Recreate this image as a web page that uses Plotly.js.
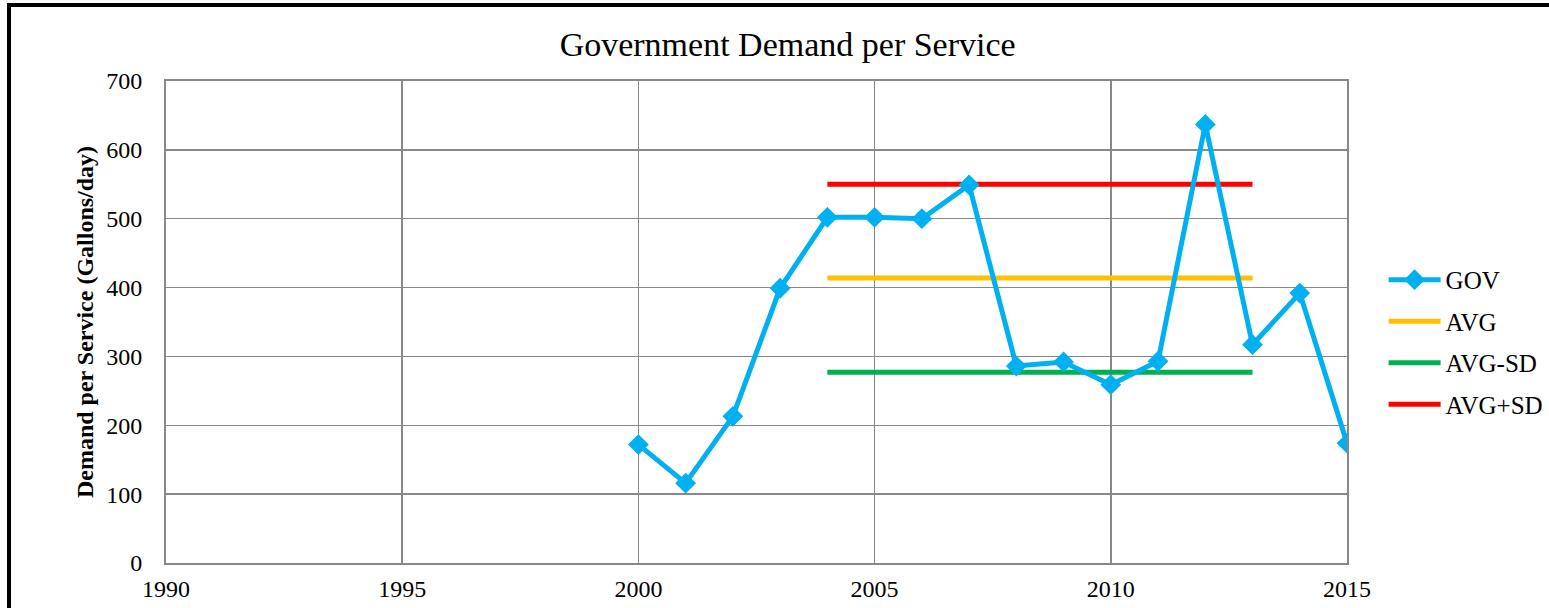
<!DOCTYPE html>
<html>
<head>
<meta charset="utf-8">
<script src="https://cdn.plot.ly/plotly-3.0.1.min.js"></script>
<style>
html,body{margin:0;padding:0;background:#fff;}
#chart{position:absolute;left:0;top:0;width:1549px;height:608px;}
#frame{position:absolute;left:7px;top:3px;width:1600px;height:700px;border-left:4px solid #000;border-top:4px solid #000;pointer-events:none;}
</style>
</head>
<body>
<div id="chart"></div>
<div id="frame"></div>
<script>
const years = [2000,2001,2002,2003,2004,2005,2006,2007,2008,2009,2010,2011,2012,2013,2014,2015];
const gov = [172,116,213,399,502,502,500,549,286,292,259,293,637,317,392,174];
const statYears = [2004,2013];
const avgVal = 414;
const avgMinusSd = 277;
const avgPlusSd = 550;
const xTicks = [1990,1995,2000,2005,2010,2015];
const yTicks = [0,100,200,300,400,500,600,700];

const serif = 'Liberation Serif, Times New Roman, serif';
const traces = [
  {x: years, y: gov, name: 'GOV', type: 'scatter', mode: 'lines+markers', legendgroup: 'a', legendrank: 1,
   line: {color: '#00B0F0', width: 5}, marker: {symbol: 'diamond', size: 16, color: '#00B0F0'}},
  {x: statYears, y: [avgVal, avgVal], name: 'AVG', type: 'scatter', mode: 'lines', legendgroup: 'b', legendrank: 2,
   line: {color: '#FFC000', width: 5}},
  {x: statYears, y: [avgMinusSd, avgMinusSd], name: 'AVG-SD', type: 'scatter', mode: 'lines', legendgroup: 'c', legendrank: 3,
   line: {color: '#00B050', width: 5}},
  {x: statYears, y: [avgPlusSd, avgPlusSd], name: 'AVG+SD', type: 'scatter', mode: 'lines', legendgroup: 'd', legendrank: 4,
   line: {color: '#FF0000', width: 5}}
];
const ordered = [traces[1], traces[2], traces[3], traces[0]];
const layout = {
  width: 1549, height: 608,
  margin: {l: 166, r: 202, t: 81, b: 45, autoexpand: false},
  paper_bgcolor: '#fff', plot_bgcolor: '#fff',
  font: {family: serif, color: '#000', size: 24},
  title: {text: 'Government Demand per Service', x: 0.5085, xanchor: 'center', y: 0.928, yanchor: 'middle',
          xref: 'container', font: {family: serif, size: 34, color: '#000'}},
  xaxis: {range: [1990, 2015], tickvals: xTicks, ticktext: xTicks.map(String),
          showgrid: true, gridcolor: '#888', gridwidth: 1.5, zeroline: false,
          showline: true, linecolor: '#888', linewidth: 2, mirror: true,
          ticks: '', ticklabelstandoff: 3, tickfont: {family: serif, size: 24}},
  yaxis: {range: [0, 700], tickvals: yTicks, ticktext: yTicks.map(String),
          showgrid: true, gridcolor: '#888', gridwidth: 1.5, zeroline: false,
          showline: true, linecolor: '#888', linewidth: 2, mirror: true,
          ticks: '', ticklabelstandoff: 17, tickfont: {family: serif, size: 24},
          title: {text: '<b>Demand per Service (Gallons/day)</b>', standoff: 6,
                  font: {family: serif, size: 24, color: '#000'}}},
  showlegend: true,
  legend: {x: 1.031, xanchor: 'left', y: 0.635, yanchor: 'top', traceorder: 'grouped',
           font: {family: serif, size: 25, color: '#000'}, tracegroupgap: 6, itemwidth: 52,
           bgcolor: 'rgba(0,0,0,0)'}
};
Plotly.newPlot('chart', ordered, layout, {displayModeBar: false, staticPlot: true});
</script>
</body>
</html>
